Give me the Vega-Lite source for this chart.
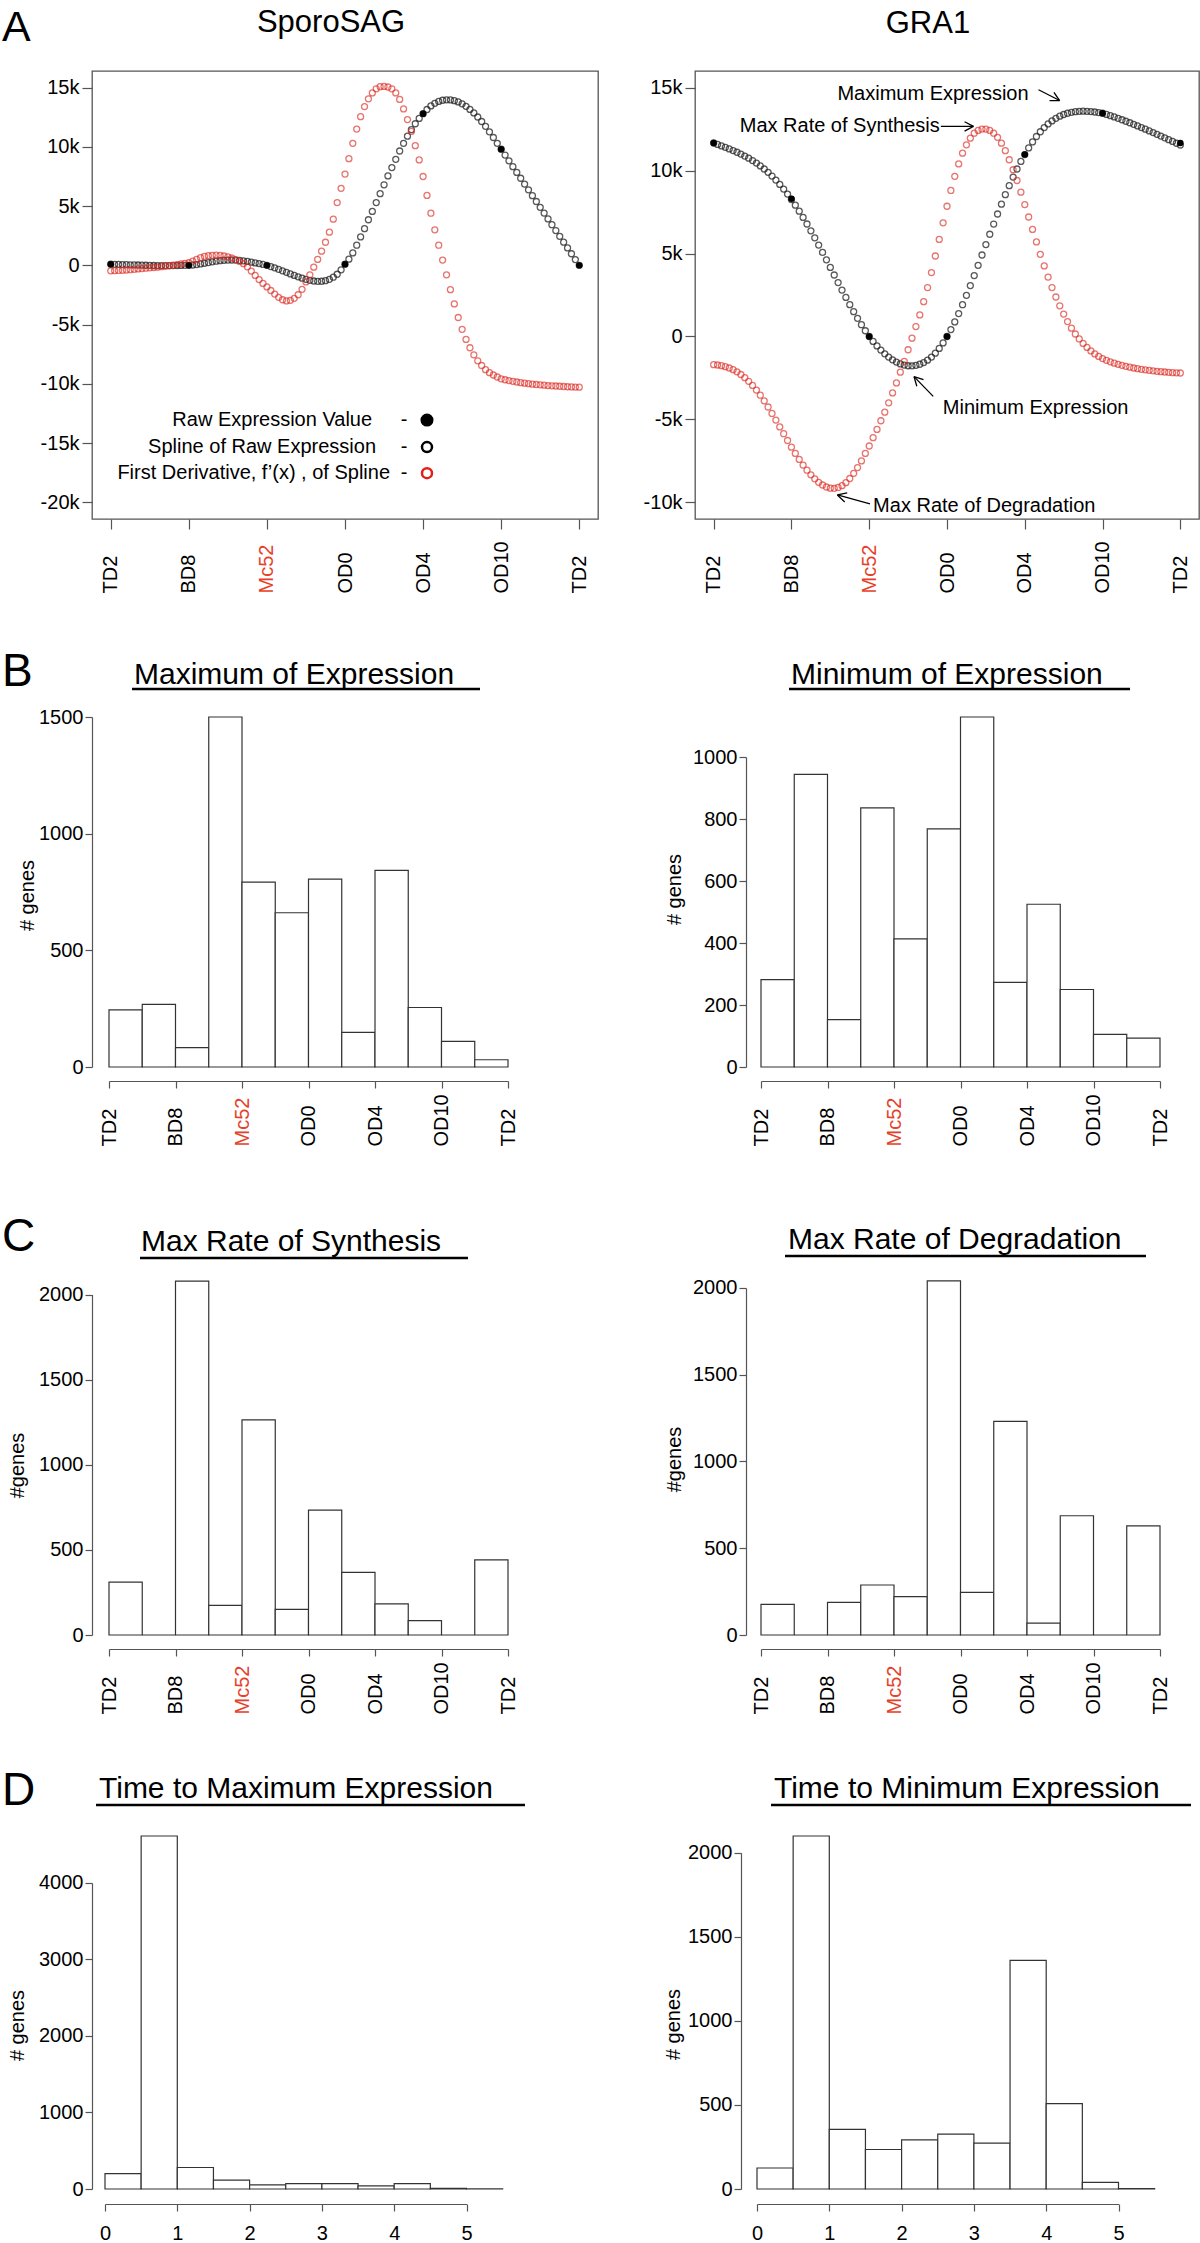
{
"$schema": "https://vega.github.io/schema/vega-lite/v6.json",
"background": "white",
"padding": {"left": 1, "top": 6, "right": 0, "bottom": 0},
"autosize": {"type": "pad"},
"config": {
  "font": "Liberation Sans",
  "view": {"stroke": null},
  "axis": {"grid": false, "labelFont": "Liberation Sans", "labelFontSize": 20, "labelColor": "#000", "titleFont": "Liberation Sans", "titleFontSize": 20, "titleFontWeight": "normal", "titleColor": "#000", "domainColor": "#555", "domainWidth": 1.2, "tickColor": "#555", "tickWidth": 1.2, "labelFlush": false, "labelOverlap": false},
  "text": {"font": "Liberation Sans", "color": "#000"}
},
"datasets": {
  "sag": [
{"x":0,"s":100,"d":-460},{"x":0.05,"s":90,"d":-450},{"x":0.1,"s":80,"d":-430},{"x":0.15,"s":70,"d":-410},{"x":0.2,"s":60,"d":-390},{"x":0.25,"s":50,"d":-360},{"x":0.3,"s":40,"d":-330},{"x":0.35,"s":30,"d":-300},{"x":0.4,"s":20,"d":-270},{"x":0.45,"s":10,"d":-240},
{"x":0.5,"s":0,"d":-210},{"x":0.55,"s":-10,"d":-180},{"x":0.6,"s":-15,"d":-150},{"x":0.65,"s":-20,"d":-110},{"x":0.7,"s":-20,"d":-70},{"x":0.75,"s":-20,"d":-30},{"x":0.8,"s":-15,"d":20},{"x":0.85,"s":-10,"d":70},{"x":0.9,"s":-5,"d":120},{"x":0.95,"s":0,"d":170},
{"x":1,"s":0,"d":220},{"x":1.05,"s":30,"d":350},{"x":1.1,"s":70,"d":500},{"x":1.15,"s":120,"d":650},{"x":1.2,"s":180,"d":760},{"x":1.25,"s":240,"d":820},{"x":1.3,"s":300,"d":850},{"x":1.35,"s":350,"d":860},{"x":1.4,"s":400,"d":840},{"x":1.45,"s":430,"d":790},
{"x":1.5,"s":450,"d":720},{"x":1.55,"s":455,"d":620},{"x":1.6,"s":445,"d":490},{"x":1.65,"s":420,"d":330},{"x":1.7,"s":380,"d":140},{"x":1.75,"s":330,"d":-120},{"x":1.8,"s":270,"d":-480},{"x":1.85,"s":210,"d":-850},{"x":1.9,"s":150,"d":-1200},{"x":1.95,"s":80,"d":-1520},
{"x":2,"s":0,"d":-1820},{"x":2.05,"s":-100,"d":-2120},{"x":2.1,"s":-210,"d":-2420},{"x":2.15,"s":-330,"d":-2700},{"x":2.2,"s":-460,"d":-2900},{"x":2.25,"s":-590,"d":-3000},{"x":2.3,"s":-720,"d":-2950},{"x":2.35,"s":-850,"d":-2780},{"x":2.4,"s":-970,"d":-2480},{"x":2.45,"s":-1080,"d":-2020},
{"x":2.5,"s":-1180,"d":-1400},{"x":2.55,"s":-1260,"d":-800},{"x":2.6,"s":-1320,"d":-150},{"x":2.65,"s":-1350,"d":500},{"x":2.7,"s":-1340,"d":1200},{"x":2.75,"s":-1290,"d":1950},{"x":2.8,"s":-1180,"d":2800},{"x":2.85,"s":-1000,"d":3900},{"x":2.9,"s":-750,"d":5300},{"x":2.95,"s":-380,"d":6500},
{"x":3,"s":100,"d":7700},{"x":3.05,"s":520,"d":9000},{"x":3.1,"s":1050,"d":10300},{"x":3.15,"s":1700,"d":11500},{"x":3.2,"s":2400,"d":12550},{"x":3.25,"s":3100,"d":13400},{"x":3.3,"s":3850,"d":14050},{"x":3.35,"s":4550,"d":14550},{"x":3.4,"s":5300,"d":14900},{"x":3.45,"s":6050,"d":15080},
{"x":3.5,"s":6800,"d":15100},{"x":3.55,"s":7550,"d":15050},{"x":3.6,"s":8250,"d":14900},{"x":3.65,"s":8950,"d":14550},{"x":3.7,"s":9650,"d":14000},{"x":3.75,"s":10300,"d":13200},{"x":3.8,"s":10900,"d":12300},{"x":3.85,"s":11450,"d":11300},{"x":3.9,"s":11950,"d":10100},{"x":3.95,"s":12400,"d":8900},
{"x":4,"s":12800,"d":7500},{"x":4.05,"s":13150,"d":5900},{"x":4.1,"s":13450,"d":4400},{"x":4.15,"s":13670,"d":3000},{"x":4.2,"s":13830,"d":1700},{"x":4.25,"s":13930,"d":450},{"x":4.3,"s":13970,"d":-800},{"x":4.35,"s":13960,"d":-2050},{"x":4.4,"s":13900,"d":-3250},{"x":4.45,"s":13790,"d":-4400},
{"x":4.5,"s":13630,"d":-5400},{"x":4.55,"s":13420,"d":-6250},{"x":4.6,"s":13160,"d":-6950},{"x":4.65,"s":12860,"d":-7550},{"x":4.7,"s":12520,"d":-8050},{"x":4.75,"s":12140,"d":-8450},{"x":4.8,"s":11730,"d":-8800},{"x":4.85,"s":11270,"d":-9050},{"x":4.9,"s":10790,"d":-9250},{"x":4.95,"s":10300,"d":-9420},
{"x":5,"s":9800,"d":-9570},{"x":5.05,"s":9310,"d":-9650},{"x":5.1,"s":8820,"d":-9720},{"x":5.15,"s":8330,"d":-9780},{"x":5.2,"s":7840,"d":-9840},{"x":5.25,"s":7350,"d":-9900},{"x":5.3,"s":6860,"d":-9940},{"x":5.35,"s":6370,"d":-9980},{"x":5.4,"s":5880,"d":-10020},{"x":5.45,"s":5390,"d":-10050},
{"x":5.5,"s":4900,"d":-10080},{"x":5.55,"s":4410,"d":-10110},{"x":5.6,"s":3920,"d":-10140},{"x":5.65,"s":3430,"d":-10160},{"x":5.7,"s":2940,"d":-10180},{"x":5.75,"s":2450,"d":-10200},{"x":5.8,"s":1960,"d":-10220},{"x":5.85,"s":1470,"d":-10240},{"x":5.9,"s":980,"d":-10255},{"x":5.95,"s":490,"d":-10270},
{"x":6,"s":0,"d":-10280}
  ],
  "gra": [
{"x":0,"s":11660,"d":-1700},{"x":0.05,"s":11574,"d":-1720},{"x":0.1,"s":11487,"d":-1760},{"x":0.15,"s":11398,"d":-1820},{"x":0.2,"s":11305,"d":-1900},{"x":0.25,"s":11207,"d":-2000},{"x":0.3,"s":11104,"d":-2130},{"x":0.35,"s":10994,"d":-2290},{"x":0.4,"s":10875,"d":-2480},{"x":0.45,"s":10745,"d":-2700},
{"x":0.5,"s":10604,"d":-2950},{"x":0.55,"s":10450,"d":-3230},{"x":0.6,"s":10281,"d":-3540},{"x":0.65,"s":10095,"d":-3880},{"x":0.7,"s":9892,"d":-4250},{"x":0.75,"s":9670,"d":-4640},{"x":0.8,"s":9428,"d":-5040},{"x":0.85,"s":9166,"d":-5450},{"x":0.9,"s":8883,"d":-5860},{"x":0.95,"s":8580,"d":-6270},
{"x":1,"s":8256,"d":-6670},{"x":1.05,"s":7913,"d":-7050},{"x":1.1,"s":7552,"d":-7410},{"x":1.15,"s":7173,"d":-7750},{"x":1.2,"s":6778,"d":-8060},{"x":1.25,"s":6368,"d":-8340},{"x":1.3,"s":5945,"d":-8580},{"x":1.35,"s":5511,"d":-8790},{"x":1.4,"s":5067,"d":-8950},{"x":1.45,"s":4617,"d":-9070},
{"x":1.5,"s":4162,"d":-9140},{"x":1.55,"s":3705,"d":-9150},{"x":1.6,"s":3249,"d":-9100},{"x":1.65,"s":2797,"d":-8990},{"x":1.7,"s":2352,"d":-8810},{"x":1.75,"s":1918,"d":-8560},{"x":1.8,"s":1498,"d":-8250},{"x":1.85,"s":1094,"d":-7900},{"x":1.9,"s":709,"d":-7500},{"x":1.95,"s":345,"d":-7050},
{"x":2,"s":0,"d":-6600},{"x":2.05,"s":-296,"d":-6100},{"x":2.1,"s":-571,"d":-5600},{"x":2.15,"s":-820,"d":-5080},{"x":2.2,"s":-1044,"d":-4560},{"x":2.25,"s":-1240,"d":-4000},{"x":2.3,"s":-1407,"d":-3400},{"x":2.35,"s":-1545,"d":-2800},{"x":2.4,"s":-1651,"d":-2150},{"x":2.45,"s":-1725,"d":-1500},
{"x":2.5,"s":-1765,"d":-800},{"x":2.55,"s":-1769,"d":-100},{"x":2.6,"s":-1740,"d":600},{"x":2.65,"s":-1674,"d":1300},{"x":2.7,"s":-1572,"d":2100},{"x":2.75,"s":-1428,"d":2950},{"x":2.8,"s":-1240,"d":3850},{"x":2.85,"s":-1006,"d":4850},{"x":2.9,"s":-720,"d":5850},{"x":2.95,"s":-386,"d":6850},
{"x":3,"s":0,"d":7850},{"x":3.05,"s":416,"d":8800},{"x":3.1,"s":877,"d":9650},{"x":3.15,"s":1378,"d":10400},{"x":3.2,"s":1914,"d":11050},{"x":3.25,"s":2479,"d":11550},{"x":3.3,"s":3067,"d":11950},{"x":3.35,"s":3672,"d":12250},{"x":3.4,"s":4289,"d":12420},{"x":3.45,"s":4912,"d":12500},
{"x":3.5,"s":5537,"d":12500},{"x":3.55,"s":6160,"d":12420},{"x":3.6,"s":6777,"d":12250},{"x":3.65,"s":7383,"d":12000},{"x":3.7,"s":7974,"d":11650},{"x":3.75,"s":8545,"d":11200},{"x":3.8,"s":9091,"d":10650},{"x":3.85,"s":9609,"d":10050},{"x":3.9,"s":10095,"d":9400},{"x":3.95,"s":10548,"d":8700},
{"x":4,"s":10964,"d":7950},{"x":4.05,"s":11365,"d":7200},{"x":4.1,"s":11727,"d":6450},{"x":4.15,"s":12053,"d":5700},{"x":4.2,"s":12340,"d":4950},{"x":4.25,"s":12592,"d":4250},{"x":4.3,"s":12809,"d":3580},{"x":4.35,"s":12994,"d":2950},{"x":4.4,"s":13148,"d":2380},{"x":4.45,"s":13276,"d":1850},
{"x":4.5,"s":13377,"d":1350},{"x":4.55,"s":13455,"d":900},{"x":4.6,"s":13511,"d":500},{"x":4.65,"s":13549,"d":150},{"x":4.7,"s":13570,"d":-150},{"x":4.75,"s":13578,"d":-420},{"x":4.8,"s":13572,"d":-660},{"x":4.85,"s":13556,"d":-870},{"x":4.9,"s":13529,"d":-1050},{"x":4.95,"s":13495,"d":-1200},
{"x":5,"s":13453,"d":-1330},{"x":5.05,"s":13384,"d":-1440},{"x":5.1,"s":13310,"d":-1530},{"x":5.15,"s":13231,"d":-1610},{"x":5.2,"s":13148,"d":-1680},{"x":5.25,"s":13061,"d":-1740},{"x":5.3,"s":12971,"d":-1800},{"x":5.35,"s":12880,"d":-1850},{"x":5.4,"s":12786,"d":-1900},{"x":5.45,"s":12690,"d":-1940},
{"x":5.5,"s":12592,"d":-1980},{"x":5.55,"s":12492,"d":-2010},{"x":5.6,"s":12391,"d":-2040},{"x":5.65,"s":12288,"d":-2070},{"x":5.7,"s":12184,"d":-2100},{"x":5.75,"s":12078,"d":-2120},{"x":5.8,"s":11972,"d":-2140},{"x":5.85,"s":11864,"d":-2160},{"x":5.9,"s":11756,"d":-2180},{"x":5.95,"s":11647,"d":-2190},
{"x":6,"s":11540,"d":-2200}
  ],
  "sagRaw": [{"x":0,"r":100},{"x":1,"r":0},{"x":2,"r":0},{"x":3,"r":100},{"x":4,"r":12800},{"x":5,"r":9800},{"x":6,"r":0}],
  "graRaw": [{"x":0,"r":11660},{"x":1,"r":8300},{"x":2,"r":0},{"x":3,"r":0},{"x":4,"r":10970},{"x":5,"r":13450},{"x":6,"r":11660}]
},
"columns": 2,
"spacing": {"row": 198, "column": 97},
"bounds": "flush",
"align": {"row": "each", "column": "all"},
"concat": [
{
 "width": 506, "height": 448,
 "view": {"stroke": "#555", "strokeWidth": 1.3},
 "layer": [
  {"data": {"name": "sag"},
   "mark": {"type": "point", "filled": false, "size": 36, "strokeWidth": 1.3, "color": "#222", "opacity": 0.75},
   "encoding": {
    "x": {"field": "x", "type": "quantitative", "scale": {"domain": [-0.24, 6.24], "nice": false, "zero": false},
          "axis": {"values": [0,1,2,3,4,5,6], "labelExpr": "['TD2','BD8','Mc52','OD0','OD4','OD10','TD2'][datum.value]", "labelAngle": 270, "labelAlign": "left", "labelBaseline": "middle", "labelPadding": 64, "tickSize": 10, "domain": false, "title": null, "labelColor": {"condition": {"test": "datum.value == 2", "value": "#e5412a"}, "value": "#000"}}},
    "y": {"field": "s", "type": "quantitative", "scale": {"domain": [-21400, 16400], "nice": false, "zero": false},
          "axis": {"values": [-20000,-15000,-10000,-5000,0,5000,10000,15000], "labelExpr": "datum.value == 0 ? '0' : (datum.value/1000) + 'k'", "tickSize": 10, "labelPadding": 3, "domain": false, "title": null}}
   }},
  {"data": {"name": "sag"},
   "mark": {"type": "point", "filled": false, "size": 36, "strokeWidth": 1.3, "color": "#dd2a22", "opacity": 0.65},
   "encoding": {"x": {"field": "x", "type": "quantitative"}, "y": {"field": "d", "type": "quantitative"}}},
  {"data": {"name": "sagRaw"},
   "mark": {"type": "point", "filled": true, "size": 42, "color": "#000", "opacity": 1},
   "encoding": {"x": {"field": "x", "type": "quantitative"}, "y": {"field": "r", "type": "quantitative"}}},
  {"data": {"values": [{"t": "Raw Expression Value", "x": 3.347, "y": -13050}, {"t": "Spline  of Raw Expression", "x": 3.397, "y": -15330}, {"t": "First Derivative, f’(x) , of Spline", "x": 3.577, "y": -17530}]},
   "mark": {"type": "text", "fontSize": 20, "align": "right", "baseline": "middle"},
   "encoding": {"x": {"field": "x", "type": "quantitative"}, "y": {"field": "y", "type": "quantitative"}, "text": {"field": "t"}}},
  {"data": {"values": [{"x": 3.756, "y": -13050}, {"x": 3.756, "y": -15330}, {"x": 3.756, "y": -17530}]},
   "mark": {"type": "text", "fontSize": 20, "align": "center", "baseline": "middle", "text": "-"},
   "encoding": {"x": {"field": "x", "type": "quantitative"}, "y": {"field": "y", "type": "quantitative"}}},
  {"data": {"values": [{}]}, "mark": {"type": "point", "filled": true, "color": "#000", "size": 170, "opacity": 1}, "encoding": {"x": {"datum": 4.05}, "y": {"datum": -13050}}},
  {"data": {"values": [{}]}, "mark": {"type": "point", "filled": false, "color": "#000", "size": 100, "strokeWidth": 2.5, "opacity": 1}, "encoding": {"x": {"datum": 4.05}, "y": {"datum": -15330}}},
  {"data": {"values": [{}]}, "mark": {"type": "point", "filled": false, "color": "#e0201a", "size": 100, "strokeWidth": 2.5, "opacity": 1}, "encoding": {"x": {"datum": 4.05}, "y": {"datum": -17530}}},
  {"data": {"values": [{}]}, "mark": {"type": "text", "text": "A", "fontSize": 43, "align": "left", "baseline": "alphabetic"}, "encoding": {"x": {"datum": -1.392}, "y": {"datum": 18930}}},
  {"data": {"values": [{}]}, "mark": {"type": "text", "text": "SporoSAG", "fontSize": 31, "align": "center", "baseline": "alphabetic"}, "encoding": {"x": {"datum": 2.821}, "y": {"datum": 19690}}}
 ]
},
{
 "width": 504, "height": 448,
 "view": {"stroke": "#555", "strokeWidth": 1.3},
 "layer": [
  {"data": {"name": "gra"},
   "mark": {"type": "point", "filled": false, "size": 36, "strokeWidth": 1.3, "color": "#222", "opacity": 0.75},
   "encoding": {
    "x": {"field": "x", "type": "quantitative", "scale": {"domain": [-0.24, 6.24], "nice": false, "zero": false},
          "axis": {"values": [0,1,2,3,4,5,6], "labelExpr": "['TD2','BD8','Mc52','OD0','OD4','OD10','TD2'][datum.value]", "labelAngle": 270, "labelAlign": "left", "labelBaseline": "middle", "labelPadding": 64, "tickSize": 10, "domain": false, "title": null, "labelColor": {"condition": {"test": "datum.value == 2", "value": "#e5412a"}, "value": "#000"}}},
    "y": {"field": "s", "type": "quantitative", "scale": {"domain": [-11000, 16000], "nice": false, "zero": false},
          "axis": {"values": [-10000,-5000,0,5000,10000,15000], "labelExpr": "datum.value == 0 ? '0' : (datum.value/1000) + 'k'", "tickSize": 10, "labelPadding": 3, "domain": false, "title": null}}
   }},
  {"data": {"name": "gra"},
   "mark": {"type": "point", "filled": false, "size": 36, "strokeWidth": 1.3, "color": "#dd2a22", "opacity": 0.65},
   "encoding": {"x": {"field": "x", "type": "quantitative"}, "y": {"field": "d", "type": "quantitative"}}},
  {"data": {"name": "graRaw"},
   "mark": {"type": "point", "filled": true, "size": 42, "color": "#000", "opacity": 1},
   "encoding": {"x": {"field": "x", "type": "quantitative"}, "y": {"field": "r", "type": "quantitative"}}},
  {"data": {"values": [{"t": "Maximum Expression", "x": 1.591, "y": 14610}, {"t": "Max Rate of Synthesis", "x": 0.335, "y": 12660}, {"t": "Minimum Expression", "x": 2.946, "y": -4320}, {"t": "Max Rate of Degradation", "x": 2.05, "y": -10240}]},
   "mark": {"type": "text", "fontSize": 20, "align": "left", "baseline": "middle"},
   "encoding": {"x": {"field": "x", "type": "quantitative"}, "y": {"field": "y", "type": "quantitative"}, "text": {"field": "t"}}},
  {"data": {"values": [
     {"x": 4.177, "y": 14870, "x2": 4.448, "y2": 14220}, {"x": 4.375, "y": 14710, "x2": 4.448, "y2": 14220}, {"x": 4.319, "y": 14210, "x2": 4.448, "y2": 14220},
     {"x": 2.921, "y": 12660, "x2": 3.34, "y2": 12660}, {"x": 3.226, "y": 12940, "x2": 3.34, "y2": 12660}, {"x": 3.226, "y": 12380, "x2": 3.34, "y2": 12660},
     {"x": 2.823, "y": -3610, "x2": 2.576, "y2": -2420}, {"x": 2.612, "y": -3000, "x2": 2.576, "y2": -2420}, {"x": 2.698, "y": -2600, "x2": 2.576, "y2": -2420},
     {"x": 2.01, "y": -10090, "x2": 1.591, "y2": -9550}, {"x": 1.685, "y": -9970, "x2": 1.591, "y2": -9550}, {"x": 1.717, "y": -9420, "x2": 1.591, "y2": -9550}]},
   "mark": {"type": "rule", "strokeWidth": 1.3, "color": "#000"},
   "encoding": {"x": {"field": "x", "type": "quantitative"}, "y": {"field": "y", "type": "quantitative"}, "x2": {"field": "x2"}, "y2": {"field": "y2"}}},
  {"data": {"values": [{}]}, "mark": {"type": "text", "text": "GRA1", "fontSize": 31, "align": "center", "baseline": "alphabetic"}, "encoding": {"x": {"datum": 2.755}, "y": {"datum": 18320}}}
 ]
},
{
 "width": 416, "height": 350,
 "layer": [
  {"data": {"values": [{"b0":0,"b1":0.5,"n":245},{"b0":0.5,"b1":1,"n":268},{"b0":1,"b1":1.5,"n":83},{"b0":1.5,"b1":2,"n":1500},{"b0":2,"b1":2.5,"n":792},{"b0":2.5,"b1":3,"n":661},{"b0":3,"b1":3.5,"n":805},{"b0":3.5,"b1":4,"n":148},{"b0":4,"b1":4.5,"n":843},{"b0":4.5,"b1":5,"n":255},{"b0":5,"b1":5.5,"n":110},{"b0":5.5,"b1":6,"n":31}]},
   "mark": {"type": "rect", "fill": "#fff", "stroke": "#333", "strokeWidth": 1.2},
   "encoding": {
    "x": {"field": "b0", "type": "quantitative", "scale": {"domain": [0, 6], "range": [17, 416], "nice": false, "zero": false},
          "axis": {"values": [0,1,2,3,4,5,6], "labelExpr": "['TD2','BD8','Mc52','OD0','OD4','OD10','TD2'][datum.value]", "labelAngle": 270, "labelAlign": "left", "labelBaseline": "middle", "labelPadding": 58, "tickSize": 7, "offset": 14, "title": null, "labelColor": {"condition": {"test": "datum.value == 2", "value": "#e5412a"}, "value": "#000"}}},
    "x2": {"field": "b1"},
    "y": {"field": "n", "type": "quantitative", "scale": {"domain": [0, 1500], "range": [350, 0], "nice": false, "zero": false},
          "axis": {"values": [0,500,1000,1500], "format": "d", "tickSize": 7, "labelPadding": 2, "title": "# genes", "titleX": -65, "titleY": 178, "titleAngle": 270, "titleAlign": "center", "titleBaseline": "middle"}},
    "y2": {"datum": 0}
   }},
  {"data": {"values": [{}]}, "mark": {"type": "text", "text": "B", "fontSize": 46, "align": "left", "baseline": "alphabetic"}, "encoding": {"x": {"datum": -1.609}, "y": {"datum": 1633}}},
  {"data": {"values": [{}]}, "mark": {"type": "text", "text": "Maximum of Expression", "fontSize": 30, "align": "left", "baseline": "alphabetic"}, "encoding": {"x": {"datum": 0.376}, "y": {"datum": 1642}}},
  {"data": {"values": [{}]}, "mark": {"type": "rule", "strokeWidth": 2.5, "color": "#000"}, "encoding": {"x": {"datum": 0.346}, "x2": {"datum": 5.579}, "y": {"datum": 1620}}}
 ]
},
{
 "width": 465, "height": 350,
 "layer": [
  {"data": {"values": [{"b0":0,"b1":0.5,"n":282},{"b0":0.5,"b1":1,"n":944},{"b0":1,"b1":1.5,"n":153},{"b0":1.5,"b1":2,"n":836},{"b0":2,"b1":2.5,"n":413},{"b0":2.5,"b1":3,"n":768},{"b0":3,"b1":3.5,"n":1129},{"b0":3.5,"b1":4,"n":273},{"b0":4,"b1":4.5,"n":525},{"b0":4.5,"b1":5,"n":250},{"b0":5,"b1":5.5,"n":105},{"b0":5.5,"b1":6,"n":93}]},
   "mark": {"type": "rect", "fill": "#fff", "stroke": "#333", "strokeWidth": 1.2},
   "encoding": {
    "x": {"field": "b0", "type": "quantitative", "scale": {"domain": [0, 6], "range": [66, 465], "nice": false, "zero": false},
          "axis": {"values": [0,1,2,3,4,5,6], "labelExpr": "['TD2','BD8','Mc52','OD0','OD4','OD10','TD2'][datum.value]", "labelAngle": 270, "labelAlign": "left", "labelBaseline": "middle", "labelPadding": 58, "tickSize": 7, "offset": 14, "title": null, "labelColor": {"condition": {"test": "datum.value == 2", "value": "#e5412a"}, "value": "#000"}}},
    "x2": {"field": "b1"},
    "y": {"field": "n", "type": "quantitative", "scale": {"domain": [0, 1000], "range": [350, 40], "nice": false, "zero": false},
          "axis": {"values": [0,200,400,600,800,1000], "format": "d", "offset": -51, "tickSize": 7, "labelPadding": 2, "title": "# genes", "titleX": -72, "titleY": 172, "titleAngle": 270, "titleAlign": "center", "titleBaseline": "middle"}},
    "y2": {"datum": 0}
   }},
  {"data": {"values": [{}]}, "mark": {"type": "text", "text": "Minimum of Expression", "fontSize": 30, "align": "left", "baseline": "alphabetic"}, "encoding": {"x": {"datum": 0.451}, "y": {"datum": 1235}}},
  {"data": {"values": [{}]}, "mark": {"type": "rule", "strokeWidth": 2.5, "color": "#000"}, "encoding": {"x": {"datum": 0.421}, "x2": {"datum": 5.549}, "y": {"datum": 1219}}}
 ]
},
{
 "width": 416, "height": 370,
 "layer": [
  {"data": {"values": [{"b0":0,"b1":0.5,"n":310},{"b0":0.5,"b1":1,"n":0},{"b0":1,"b1":1.5,"n":2079},{"b0":1.5,"b1":2,"n":174},{"b0":2,"b1":2.5,"n":1263},{"b0":2.5,"b1":3,"n":151},{"b0":3,"b1":3.5,"n":734},{"b0":3.5,"b1":4,"n":368},{"b0":4,"b1":4.5,"n":183},{"b0":4.5,"b1":5,"n":84},{"b0":5,"b1":5.5,"n":0},{"b0":5.5,"b1":6,"n":441}]},
   "mark": {"type": "rect", "fill": "#fff", "stroke": "#333", "strokeWidth": 1.2},
   "encoding": {
    "x": {"field": "b0", "type": "quantitative", "scale": {"domain": [0, 6], "range": [17, 416], "nice": false, "zero": false},
          "axis": {"values": [0,1,2,3,4,5,6], "labelExpr": "['TD2','BD8','Mc52','OD0','OD4','OD10','TD2'][datum.value]", "labelAngle": 270, "labelAlign": "left", "labelBaseline": "middle", "labelPadding": 58, "tickSize": 7, "offset": 14, "title": null, "labelColor": {"condition": {"test": "datum.value == 2", "value": "#e5412a"}, "value": "#000"}}},
    "x2": {"field": "b1"},
    "y": {"field": "n", "type": "quantitative", "scale": {"domain": [0, 2000], "range": [370, 29.5], "nice": false, "zero": false},
          "axis": {"values": [0,500,1000,1500,2000], "format": "d", "tickSize": 7, "labelPadding": 2, "title": "#genes", "titleX": -75, "titleY": 200, "titleAngle": 270, "titleAlign": "center", "titleBaseline": "middle"}},
    "y2": {"datum": 0}
   }},
  {"data": {"values": [{}]}, "mark": {"type": "text", "text": "C", "fontSize": 46, "align": "left", "baseline": "alphabetic"}, "encoding": {"x": {"datum": -1.609}, "y": {"datum": 2255}}},
  {"data": {"values": [{}]}, "mark": {"type": "text", "text": "Max Rate of Synthesis", "fontSize": 30, "align": "left", "baseline": "alphabetic"}, "encoding": {"x": {"datum": 0.481}, "y": {"datum": 2255}}},
  {"data": {"values": [{}]}, "mark": {"type": "rule", "strokeWidth": 2.5, "color": "#000"}, "encoding": {"x": {"datum": 0.466}, "x2": {"datum": 5.398}, "y": {"datum": 2214}}}
 ]
},
{
 "width": 465, "height": 370,
 "layer": [
  {"data": {"values": [{"b0":0,"b1":0.5,"n":177},{"b0":0.5,"b1":1,"n":0},{"b0":1,"b1":1.5,"n":188},{"b0":1.5,"b1":2,"n":288},{"b0":2,"b1":2.5,"n":221},{"b0":2.5,"b1":3,"n":2040},{"b0":3,"b1":3.5,"n":246},{"b0":3.5,"b1":4,"n":1231},{"b0":4,"b1":4.5,"n":69},{"b0":4.5,"b1":5,"n":687},{"b0":5,"b1":5.5,"n":0},{"b0":5.5,"b1":6,"n":629}]},
   "mark": {"type": "rect", "fill": "#fff", "stroke": "#333", "strokeWidth": 1.2},
   "encoding": {
    "x": {"field": "b0", "type": "quantitative", "scale": {"domain": [0, 6], "range": [66, 465], "nice": false, "zero": false},
          "axis": {"values": [0,1,2,3,4,5,6], "labelExpr": "['TD2','BD8','Mc52','OD0','OD4','OD10','TD2'][datum.value]", "labelAngle": 270, "labelAlign": "left", "labelBaseline": "middle", "labelPadding": 58, "tickSize": 7, "offset": 14, "title": null, "labelColor": {"condition": {"test": "datum.value == 2", "value": "#e5412a"}, "value": "#000"}}},
    "x2": {"field": "b1"},
    "y": {"field": "n", "type": "quantitative", "scale": {"domain": [0, 2000], "range": [370, 22.9], "nice": false, "zero": false},
          "axis": {"values": [0,500,1000,1500,2000], "format": "d", "offset": -51, "tickSize": 7, "labelPadding": 2, "title": "#genes", "titleX": -72, "titleY": 194, "titleAngle": 270, "titleAlign": "center", "titleBaseline": "middle"}},
    "y2": {"datum": 0}
   }},
  {"data": {"values": [{}]}, "mark": {"type": "text", "text": "Max Rate of Degradation", "fontSize": 30, "align": "left", "baseline": "alphabetic"}, "encoding": {"x": {"datum": 0.406}, "y": {"datum": 2224}}},
  {"data": {"values": [{}]}, "mark": {"type": "rule", "strokeWidth": 2.5, "color": "#000"}, "encoding": {"x": {"datum": 0.361}, "x2": {"datum": 5.789}, "y": {"datum": 2184}}}
 ]
},
{
 "width": 411, "height": 356,
 "layer": [
  {"data": {"values": [{"b0":0,"b1":0.5,"n":201},{"b0":0.5,"b1":1,"n":4613},{"b0":1,"b1":1.5,"n":281},{"b0":1.5,"b1":2,"n":116},{"b0":2,"b1":2.5,"n":55},{"b0":2.5,"b1":3,"n":70},{"b0":3,"b1":3.5,"n":70},{"b0":3.5,"b1":4,"n":40},{"b0":4,"b1":4.5,"n":70},{"b0":4.5,"b1":5,"n":10},{"b0":5,"b1":5.5,"n":2}]},
   "mark": {"type": "rect", "fill": "#fff", "stroke": "#333", "strokeWidth": 1.2},
   "encoding": {
    "x": {"field": "b0", "type": "quantitative", "scale": {"domain": [0, 5], "range": [13, 374.5], "nice": false, "zero": false},
          "axis": {"values": [0,1,2,3,4,5], "format": "d", "labelAngle": 0, "labelAlign": "center", "labelBaseline": "top", "labelPadding": 12, "tickSize": 7, "offset": 15, "title": null}},
    "x2": {"field": "b1"},
    "y": {"field": "n", "type": "quantitative", "scale": {"domain": [0, 4000], "range": [356, 49.9], "nice": false, "zero": false},
          "axis": {"values": [0,1000,2000,3000,4000], "format": "d", "tickSize": 7, "labelPadding": 2, "title": "# genes", "titleX": -75, "titleY": 192, "titleAngle": 270, "titleAlign": "center", "titleBaseline": "middle"}},
    "y2": {"datum": 0}
   }},
  {"data": {"values": [{}]}, "mark": {"type": "text", "text": "D", "fontSize": 46, "align": "left", "baseline": "alphabetic"}, "encoding": {"x": {"datum": -1.425}, "y": {"datum": 5018}}},
  {"data": {"values": [{}]}, "mark": {"type": "text", "text": "Time to Maximum Expression", "fontSize": 30, "align": "left", "baseline": "alphabetic"}, "encoding": {"x": {"datum": -0.083}, "y": {"datum": 5110}}},
  {"data": {"values": [{}]}, "mark": {"type": "rule", "strokeWidth": 2.5, "color": "#000"}, "encoding": {"x": {"datum": -0.124}, "x2": {"datum": 5.809}, "y": {"datum": 5018}}}
 ]
},
{
 "width": 460, "height": 356,
 "layer": [
  {"data": {"values": [{"b0":0,"b1":0.5,"n":125},{"b0":0.5,"b1":1,"n":2100},{"b0":1,"b1":1.5,"n":355},{"b0":1.5,"b1":2,"n":235},{"b0":2,"b1":2.5,"n":292},{"b0":2.5,"b1":3,"n":326},{"b0":3,"b1":3.5,"n":273},{"b0":3.5,"b1":4,"n":1360},{"b0":4,"b1":4.5,"n":508},{"b0":4.5,"b1":5,"n":39},{"b0":5,"b1":5.5,"n":2}]},
   "mark": {"type": "rect", "fill": "#fff", "stroke": "#333", "strokeWidth": 1.2},
   "encoding": {
    "x": {"field": "b0", "type": "quantitative", "scale": {"domain": [0, 5], "range": [62, 423.5], "nice": false, "zero": false},
          "axis": {"values": [0,1,2,3,4,5], "format": "d", "labelAngle": 0, "labelAlign": "center", "labelBaseline": "top", "labelPadding": 12, "tickSize": 7, "offset": 15, "title": null}},
    "x2": {"field": "b1"},
    "y": {"field": "n", "type": "quantitative", "scale": {"domain": [0, 2000], "range": [356, 19.8], "nice": false, "zero": false},
          "axis": {"values": [0,500,1000,1500,2000], "format": "d", "offset": -46, "tickSize": 7, "labelPadding": 2, "title": "# genes", "titleX": -68, "titleY": 191, "titleAngle": 270, "titleAlign": "center", "titleBaseline": "middle"}},
    "y2": {"datum": 0}
   }},
  {"data": {"values": [{}]}, "mark": {"type": "text", "text": "Time to Minimum Expression", "fontSize": 30, "align": "left", "baseline": "alphabetic"}, "encoding": {"x": {"datum": 0.235}, "y": {"datum": 2326}}},
  {"data": {"values": [{}]}, "mark": {"type": "rule", "strokeWidth": 2.5, "color": "#000"}, "encoding": {"x": {"datum": 0.194}, "x2": {"datum": 6.003}, "y": {"datum": 2284}}}
 ]
}
]
}
